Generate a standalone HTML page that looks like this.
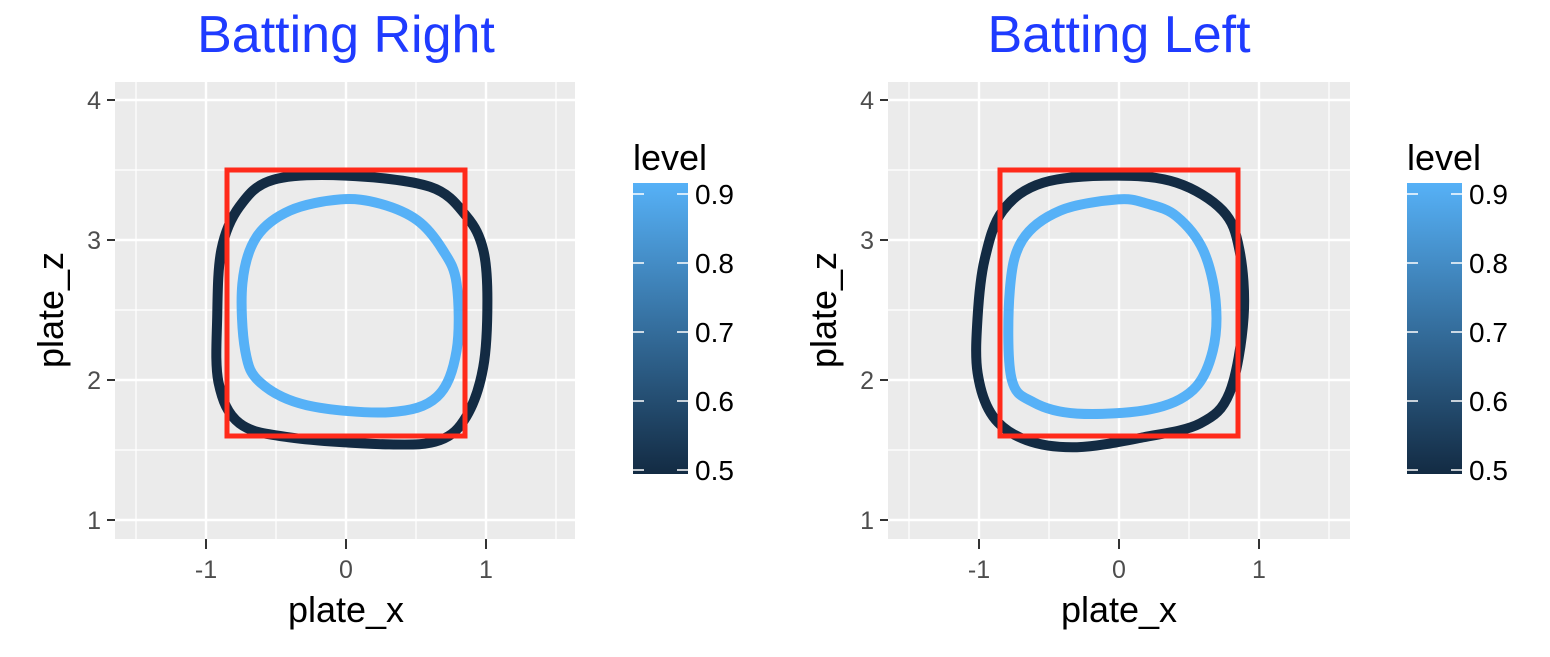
<!DOCTYPE html>
<html><head><meta charset="utf-8"><style>
body{margin:0;background:#fff;}
svg text{font-family:"Liberation Sans",sans-serif;}
</style></head><body>
<svg id="chart" width="1550" height="652" xmlns="http://www.w3.org/2000/svg">
<defs><linearGradient id="cb" x1="0" y1="1" x2="0" y2="0"><stop offset="0" stop-color="#132B43"/><stop offset="1" stop-color="#56B1F7"/></linearGradient></defs>
</svg>
<script>
const xTicks=[-1,0,1];
const zTicks=[1,2,3,4];
const legendTicks=[0.5,0.6,0.7,0.8,0.9];
const zone=[-0.85,0.85,1.6,3.5];
const rightDark=[[0.0,3.46],[-0.52,3.43],[-0.76,3.24],[-0.89,2.93],[-0.92,2.45],[-0.91,1.98],[-0.76,1.69],[-0.40,1.59],[0.31,1.54],[0.67,1.57],[0.86,1.74],[0.98,2.09],[1.01,2.57],[0.98,2.93],[0.86,3.17],[0.60,3.38]];
const rightLight=[[-0.04,3.29],[-0.40,3.21],[-0.64,3.02],[-0.74,2.69],[-0.72,2.21],[-0.61,1.98],[-0.28,1.82],[0.31,1.77],[0.65,1.88],[0.79,2.21],[0.79,2.69],[0.69,2.93],[0.51,3.14],[0.24,3.26]];
const leftDark=[[-0.02,3.46],[-0.54,3.41],[-0.83,3.21],[-0.96,2.86],[-1.01,2.45],[-1.01,2.05],[-0.90,1.74],[-0.66,1.57],[-0.30,1.52],[0.17,1.59],[0.58,1.69],[0.79,1.91],[0.89,2.45],[0.86,2.93],[0.74,3.21],[0.41,3.41]];
const leftLight=[[-0.01,3.29],[-0.42,3.21],[-0.69,3.0],[-0.78,2.64],[-0.77,2.02],[-0.61,1.84],[-0.30,1.76],[0.22,1.79],[0.53,1.93],[0.67,2.21],[0.69,2.57],[0.60,2.93],[0.41,3.17],[0.20,3.26]];
const NS="http://www.w3.org/2000/svg";
const svg=document.getElementById('chart');
function mk(t,a,p){const e=document.createElementNS(NS,t);for(const k in a)e.setAttribute(k,a[k]);(p||svg).appendChild(e);return e;}
function smooth(pts,X,Z){const n=pts.length;let d='';const P=pts.map(p=>[X(p[0]),Z(p[1])]);
 for(let i=0;i<n;i++){const p0=P[(i-1+n)%n],p1=P[i],p2=P[(i+1)%n],p3=P[(i+2)%n];
  if(i===0)d+='M'+p1[0]+','+p1[1];
  d+=' C'+(p1[0]+(p2[0]-p0[0])/6)+','+(p1[1]+(p2[1]-p0[1])/6)+' '+(p2[0]-(p3[0]-p1[0])/6)+','+(p2[1]-(p3[1]-p1[1])/6)+' '+p2[0]+','+p2[1];}
 return d+'Z';}
function panel(name,title,x0,left,right,dark,light,legX){
 const X=v=>x0+v*140, Z=v=>380-(v-2)*140;
 const g=mk('g',{});
 const bg=mk('rect',{x:left,y:82,width:right-left,height:457,fill:'#EBEBEB'},g);
 
 [-1.5,-0.5,0.5,1.5].forEach(v=>mk('line',{x1:X(v),x2:X(v),y1:82,y2:539,stroke:'#fff','stroke-width':1.2},g));
 [1.5,2.5,3.5].forEach(v=>mk('line',{x1:left,x2:right,y1:Z(v),y2:Z(v),stroke:'#fff','stroke-width':1.2},g));
 xTicks.forEach(v=>{mk('line',{x1:X(v),x2:X(v),y1:82,y2:539,stroke:'#fff','stroke-width':2.4},g);
  mk('line',{x1:X(v),x2:X(v),y1:539,y2:549,stroke:'#333','stroke-width':2},g);
  const t=mk('text',{x:X(v),y:578,'text-anchor':'middle','font-size':25,fill:'#4D4D4D'},g);t.textContent=v;
  });
 zTicks.forEach(v=>{mk('line',{x1:left,x2:right,y1:Z(v),y2:Z(v),stroke:'#fff','stroke-width':2.4},g);
  mk('line',{x1:left-8,x2:left,y1:Z(v),y2:Z(v),stroke:'#333','stroke-width':2},g);
  const t=mk('text',{x:left-14,y:Z(v)+9,'text-anchor':'end','font-size':25,fill:'#4D4D4D'},g);t.textContent=v;
  });
 const dk=mk('path',{d:smooth(dark,X,Z),fill:'none',stroke:'#132B43','stroke-width':10,'stroke-linejoin':'round'},g);
 
 const lt=mk('path',{d:smooth(light,X,Z),fill:'none',stroke:'#56B1F7','stroke-width':10,'stroke-linejoin':'round'},g);
 
 const sz=mk('rect',{x:X(zone[0]),y:Z(zone[3]),width:X(zone[1])-X(zone[0]),height:Z(zone[2])-Z(zone[3]),fill:'none',stroke:'#FF2A1A','stroke-width':5},g);
 
 const tt=mk('text',{x:x0,y:52,'text-anchor':'middle','font-size':52,fill:'#1F3BFF'},g);tt.textContent=title;
 
 const xl=mk('text',{x:x0,y:622,'text-anchor':'middle','font-size':36,fill:'#000'},g);xl.textContent='plate_x';
 
 const yl=mk('text',{x:0,y:0,'text-anchor':'middle','font-size':36,fill:'#000',transform:'translate('+(left-52)+',310) rotate(-90)'},g);yl.textContent='plate_z';
 
 const L=v=>470-(v-0.5)*690;
 const lg=mk('g',{},g);
 const lh=mk('text',{x:legX,y:170,'font-size':36,fill:'#000'},lg);lh.textContent='level';
 
 const cb=mk('rect',{x:legX,y:183,width:55,height:291,fill:'url(#cb)'},lg);
 
 legendTicks.forEach(v=>{mk('line',{x1:legX,x2:legX+11,y1:L(v),y2:L(v),stroke:'#fff','stroke-width':1.5},lg);
  mk('line',{x1:legX+44,x2:legX+55,y1:L(v),y2:L(v),stroke:'#fff','stroke-width':1.5},lg);
  const t=mk('text',{x:legX+62,y:L(v)+10,'font-size':28,fill:'#000'},lg);t.textContent=v.toFixed(1);
  });
}
panel('batting-right','Batting Right',346,115,575,rightDark,rightLight,633);
panel('batting-left','Batting Left',1119,888,1350,leftDark,leftLight,1407);
</script>
</body></html>
